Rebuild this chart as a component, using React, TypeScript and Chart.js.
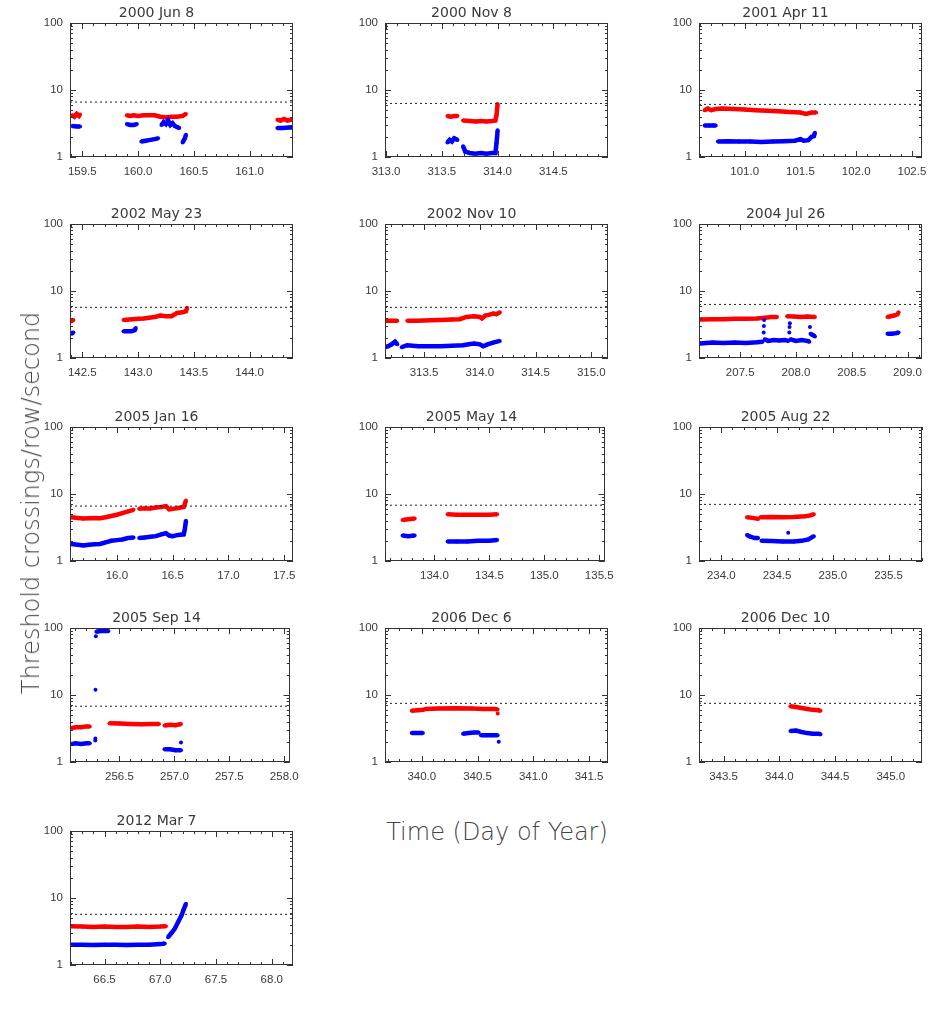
import React, { useEffect, useRef } from "react";
import { Chart, registerables } from "chart.js";

Chart.register(...registerables);

// ---------- data ----------
const TITLES = ["2000 Jun 8", "2000 Nov 8", "2001 Apr 11", "2002 May 23", "2002 Nov 10", "2004 Jul 26", "2005 Jan 16", "2005 May 14", "2005 Aug 22", "2005 Sep 14", "2006 Dec 6", "2006 Dec 10", "2012 Mar 7"];
const X_MIN = [159.39, 312.99, 100.59, 142.39, 313.15, 207.13, 15.58, 133.55, 233.80, 256.05, 339.67, 343.28, 66.19];
const X_MAX = [161.39, 314.99, 102.59, 144.39, 315.15, 209.13, 17.58, 135.55, 235.80, 258.05, 341.67, 345.28, 68.19];
const X_TICKS = [
  [159.5, 160.0, 160.5, 161.0],
  [313.0, 313.5, 314.0, 314.5],
  [101.0, 101.5, 102.0, 102.5],
  [142.5, 143.0, 143.5, 144.0],
  [313.5, 314.0, 314.5, 315.0],
  [207.5, 208.0, 208.5, 209.0],
  [16.0, 16.5, 17.0, 17.5],
  [134.0, 134.5, 135.0, 135.5],
  [234.0, 234.5, 235.0, 235.5],
  [256.5, 257.0, 257.5, 258.0],
  [340.0, 340.5, 341.0, 341.5],
  [343.5, 344.0, 344.5, 345.0],
  [66.5, 67.0, 67.5, 68.0],
];
const Y_TICKS = [1, 10, 100];
const THRESHOLDS = [6.6, 6.3, 6.1, 5.7, 5.7, 6.3, 6.6, 6.8, 7.0, 6.8, 7.5, 7.5, 5.7];

// red = one threshold, blue = other; each is a list of contiguous segments of [day, rate]
const RED_2000_JUN_8 = [
  [[159.41, 4.2], [159.43, 4.0], [159.45, 4.4], [159.47, 4.1], [159.48, 4.3]],
  [[159.90, 4.2], [159.93, 4.1], [159.96, 4.2], [160.0, 4.1], [160.05, 4.2], [160.1, 4.2], [160.15, 4.2], [160.2, 4.0], [160.25, 3.9], [160.3, 4.0], [160.35, 4.0], [160.4, 4.1], [160.43, 4.4]],
  [[161.25, 3.6], [161.28, 3.5], [161.31, 3.7], [161.34, 3.5], [161.37, 3.6], [161.39, 3.6]],
];
const BLUE_2000_JUN_8 = [
  [[159.41, 2.9], [159.45, 2.85], [159.48, 2.85]],
  [[159.90, 3.1], [159.93, 3.0], [159.96, 3.0], [159.99, 3.1]],
  [[160.03, 1.7], [160.07, 1.75], [160.11, 1.8], [160.15, 1.85], [160.18, 1.9]],
  [[160.21, 3.0], [160.23, 3.3], [160.25, 3.1], [160.27, 3.5], [160.29, 3.0], [160.31, 3.2], [160.33, 2.9], [160.35, 2.8], [160.37, 2.7]],
  [[160.40, 1.65], [160.42, 1.9], [160.43, 2.15]],
  [[161.25, 2.7], [161.3, 2.7], [161.35, 2.75], [161.39, 2.75]],
];
const RED_2000_NOV_8 = [
  [[313.55, 4.1], [313.58, 4.0], [313.61, 4.1], [313.64, 4.1]],
  [[313.69, 3.5], [313.75, 3.45], [313.8, 3.4], [313.85, 3.45], [313.9, 3.4], [313.95, 3.45], [313.98, 3.5], [313.99, 4.2], [314.0, 6.2]],
];
const BLUE_2000_NOV_8 = [
  [[313.55, 1.65], [313.57, 1.8], [313.59, 1.7], [313.61, 1.9], [313.64, 1.8]],
  [[313.69, 1.45], [313.71, 1.2], [313.75, 1.15], [313.8, 1.12], [313.85, 1.15], [313.9, 1.12], [313.95, 1.15], [313.98, 1.15], [313.99, 1.6], [314.0, 2.5]],
];
const RED_2001_APR_11 = [
  [[100.64, 5.0], [100.67, 5.3], [100.7, 5.0], [100.74, 5.2], [100.8, 5.3], [100.9, 5.2], [101.0, 5.1], [101.1, 5.0], [101.2, 4.9], [101.3, 4.8], [101.4, 4.7], [101.5, 4.6], [101.55, 4.4], [101.6, 4.6], [101.64, 4.6]],
];
const BLUE_2001_APR_11 = [
  [[100.64, 2.95], [100.68, 2.95], [100.72, 2.95], [100.74, 2.95]],
  [[100.76, 1.7], [100.85, 1.72], [100.95, 1.7], [101.05, 1.7], [101.15, 1.68], [101.25, 1.7], [101.35, 1.72], [101.45, 1.75], [101.5, 1.85], [101.53, 1.75], [101.57, 1.78], [101.6, 2.0], [101.62, 2.05], [101.63, 2.3]],
];
const RED_2002_MAY_23 = [
  [[142.40, 3.5], [142.42, 3.7]],
  [[142.87, 3.7], [142.95, 3.8], [143.0, 3.85], [143.05, 3.9], [143.1, 4.0], [143.15, 4.1], [143.2, 4.3], [143.25, 4.2], [143.3, 4.2], [143.35, 4.7], [143.4, 4.8], [143.43, 5.0], [143.44, 5.6]],
];
const BLUE_2002_MAY_23 = [
  [[142.40, 2.3], [142.42, 2.4]],
  [[142.87, 2.5], [142.9, 2.5], [142.94, 2.5], [142.97, 2.6], [142.98, 2.8]],
];
const RED_2002_NOV_10 = [
  [[313.15, 3.6], [313.2, 3.6], [313.26, 3.6]],
  [[313.35, 3.6], [313.45, 3.6], [313.55, 3.65], [313.65, 3.7], [313.75, 3.75], [313.82, 3.8], [313.88, 4.1], [313.95, 4.2], [314.0, 4.1], [314.02, 3.9], [314.05, 4.3], [314.08, 4.4], [314.12, 4.6], [314.15, 4.5], [314.18, 4.8]],
];
const BLUE_2002_NOV_10 = [
  [[313.15, 1.45], [313.18, 1.5], [313.21, 1.6], [313.24, 1.75], [313.26, 1.6]],
  [[313.3, 1.45], [313.35, 1.55], [313.45, 1.5], [313.55, 1.5], [313.65, 1.5], [313.75, 1.52], [313.85, 1.55], [313.9, 1.6], [313.95, 1.65], [314.0, 1.6], [314.03, 1.5], [314.07, 1.6], [314.12, 1.7], [314.18, 1.8]],
];
const RED_2004_JUL_26 = [
  [[207.14, 3.75], [207.25, 3.8], [207.35, 3.8], [207.45, 3.85], [207.55, 3.85], [207.65, 3.9], [207.72, 4.0], [207.78, 4.1], [207.83, 4.1]],
  [[207.92, 4.2], [207.98, 4.15], [208.05, 4.1], [208.1, 4.15], [208.17, 4.1]],
  [[208.82, 4.1], [208.85, 4.2], [208.88, 4.3], [208.91, 4.5], [208.92, 4.8]],
];
const BLUE_2004_JUL_26 = [
  [[207.14, 1.65], [207.25, 1.7], [207.35, 1.68], [207.45, 1.7], [207.55, 1.68], [207.65, 1.72], [207.7, 1.75]],
  [[207.71, 2.4]], [[207.712, 3.0]], [[207.714, 3.7]],
  [[207.72, 1.9], [207.75, 1.8], [207.8, 1.85], [207.85, 1.82], [207.9, 1.85], [207.93, 1.8]],
  [[207.94, 2.4]], [[207.942, 2.9]], [[207.945, 3.3]],
  [[207.95, 1.9], [208.0, 1.8], [208.05, 1.85], [208.1, 1.8], [208.12, 1.75]],
  [[208.125, 2.9]],
  [[208.13, 2.3], [208.15, 2.2], [208.17, 2.1]],
  [[208.82, 2.3], [208.86, 2.3], [208.9, 2.35], [208.92, 2.4]],
];
const RED_2005_JAN_16 = [
  [[15.59, 4.5], [15.65, 4.4], [15.7, 4.3], [15.75, 4.35], [15.8, 4.4], [15.85, 4.35], [15.9, 4.5], [15.95, 4.7], [16.0, 4.9], [16.05, 5.2], [16.1, 5.5], [16.15, 5.8]],
  [[16.2, 6.0], [16.25, 6.1], [16.3, 6.1], [16.35, 6.3], [16.4, 6.4], [16.44, 6.6], [16.47, 5.9], [16.5, 6.0], [16.55, 6.2], [16.6, 6.4], [16.62, 8.0]],
];
const BLUE_2005_JAN_16 = [
  [[15.59, 1.8], [15.65, 1.75], [15.7, 1.7], [15.75, 1.75], [15.8, 1.78], [15.85, 1.8], [15.9, 1.9], [15.95, 2.0], [16.0, 2.05], [16.05, 2.1], [16.1, 2.2], [16.15, 2.25]],
  [[16.2, 2.2], [16.25, 2.25], [16.3, 2.3], [16.35, 2.35], [16.4, 2.5], [16.44, 2.6], [16.47, 2.4], [16.5, 2.35], [16.55, 2.45], [16.6, 2.5], [16.61, 3.0], [16.62, 4.0]],
];
const RED_2005_MAY_14 = [
  [[133.71, 4.1], [133.76, 4.2], [133.82, 4.3]],
  [[134.12, 5.0], [134.2, 4.9], [134.3, 4.9], [134.4, 4.9], [134.5, 4.9], [134.57, 5.0]],
];
const BLUE_2005_MAY_14 = [
  [[133.71, 2.4], [133.76, 2.35], [133.82, 2.4]],
  [[134.12, 1.95], [134.2, 1.95], [134.3, 1.95], [134.4, 2.0], [134.5, 2.0], [134.57, 2.05]],
];
const RED_2005_AUG_22 = [
  [[234.23, 4.5], [234.28, 4.4], [234.33, 4.25]],
  [[234.35, 4.5], [234.45, 4.55], [234.55, 4.5], [234.65, 4.55], [234.75, 4.65], [234.8, 4.8], [234.83, 5.0]],
];
const BLUE_2005_AUG_22 = [
  [[234.23, 2.45], [234.26, 2.3], [234.3, 2.2], [234.33, 2.2]],
  [[234.36, 2.0], [234.45, 1.98], [234.55, 1.95], [234.65, 1.95], [234.72, 2.0], [234.78, 2.1], [234.83, 2.35]],
  [[234.6, 2.65]],
];
const RED_2005_SEP_14 = [
  [[256.06, 3.2], [256.1, 3.3], [256.15, 3.3], [256.2, 3.4], [256.23, 3.4]],
  [[256.41, 3.8], [256.5, 3.75], [256.6, 3.7], [256.7, 3.65], [256.8, 3.7], [256.86, 3.7]],
  [[256.91, 3.5], [256.96, 3.6], [257.01, 3.55], [257.06, 3.7]],
];
const BLUE_2005_SEP_14 = [
  [[256.06, 1.85], [256.1, 1.9], [256.15, 1.85], [256.2, 1.9], [256.23, 1.9]],
  [[256.28, 2.1]], [[256.281, 2.25]], [[256.282, 12]], [[256.285, 75]],
  [[256.29, 88], [256.33, 90], [256.37, 90], [256.40, 90]],
  [[256.91, 1.55], [256.96, 1.55], [257.01, 1.5], [257.06, 1.5]],
  [[257.06, 1.95]],
];
const RED_2006_DEC_6 = [
  [[339.91, 5.8], [339.96, 5.9], [340.02, 6.0]],
  [[340.03, 6.2], [340.15, 6.3], [340.3, 6.35], [340.45, 6.3], [340.55, 6.2], [340.65, 6.2], [340.68, 6.1]],
  [[340.681, 5.3]],
];
const BLUE_2006_DEC_6 = [
  [[339.91, 2.7], [339.96, 2.7], [340.01, 2.7]],
  [[340.37, 2.65], [340.42, 2.7], [340.47, 2.75], [340.51, 2.75]],
  [[340.53, 2.5], [340.58, 2.5], [340.63, 2.5], [340.68, 2.5]],
  [[340.69, 2.0]],
];
const RED_2006_DEC_10 = [
  [[344.10, 6.8], [344.15, 6.6], [344.2, 6.4], [344.25, 6.2], [344.3, 6.0], [344.35, 5.9], [344.37, 5.8]],
];
const BLUE_2006_DEC_10 = [
  [[344.10, 2.9], [344.15, 2.95], [344.2, 2.8], [344.25, 2.7], [344.3, 2.65], [344.35, 2.65], [344.37, 2.6]],
];
const RED_2012_MAR_7 = [
  [[66.19, 3.8], [66.3, 3.75], [66.4, 3.7], [66.5, 3.75], [66.6, 3.7], [66.7, 3.7], [66.8, 3.75], [66.9, 3.7], [67.0, 3.75], [67.05, 3.8]],
];
const BLUE_2012_MAR_7 = [
  [[66.19, 2.0], [66.3, 2.0], [66.4, 1.98], [66.5, 2.0], [66.6, 2.0], [66.7, 1.98], [66.8, 2.0], [66.9, 2.0], [67.0, 2.05], [67.04, 2.1]],
  [[67.07, 2.6], [67.1, 3.0], [67.13, 3.5], [67.16, 4.4], [67.19, 5.5], [67.21, 6.8], [67.23, 8.2]],
];

const RED_SERIES = [RED_2000_JUN_8, RED_2000_NOV_8, RED_2001_APR_11, RED_2002_MAY_23, RED_2002_NOV_10, RED_2004_JUL_26, RED_2005_JAN_16, RED_2005_MAY_14, RED_2005_AUG_22, RED_2005_SEP_14, RED_2006_DEC_6, RED_2006_DEC_10, RED_2012_MAR_7];
const BLUE_SERIES = [BLUE_2000_JUN_8, BLUE_2000_NOV_8, BLUE_2001_APR_11, BLUE_2002_MAY_23, BLUE_2002_NOV_10, BLUE_2004_JUL_26, BLUE_2005_JAN_16, BLUE_2005_MAY_14, BLUE_2005_AUG_22, BLUE_2005_SEP_14, BLUE_2006_DEC_6, BLUE_2006_DEC_10, BLUE_2012_MAR_7];

const Y_TITLE = "Threshold crossings/row/second";
const X_TITLE = "Time (Day of Year)";

// ---------- layout ----------
const COL_LEFT = [70, 385, 699];
const ROW_TOP = [23, 224, 427, 628, 831];
const BOX_W = 223;
const BOX_H = 134;
const AX_W = 50;
const TITLE_H = 25;
const XAX_H = 28;
const PAD_R = 14;
const FRAME = "#333333";
const TEXT = "#3a3a3a";

function toData(segs: number[][][]) {
  const out: { x: number; y: number | null }[] = [];
  segs.forEach((s, i) => {
    if (i > 0) out.push({ x: s[0][0], y: null });
    s.forEach(([x, y]) => out.push({ x, y }));
  });
  return out;
}

const framePlugin = {
  id: "idlFrame",
  afterDatasetsDraw(chart: any) {
    const { ctx, chartArea, scales } = chart;
    const { left, right, top, bottom } = chartArea;
    const xs = scales.x;
    const ys = scales.y;
    ctx.save();
    ctx.strokeStyle = FRAME;
    ctx.lineWidth = 1;
    ctx.strokeRect(Math.round(left) + 0.5, Math.round(top) + 0.5, Math.round(right - left) - 1, Math.round(bottom - top) - 1);
    ctx.beginPath();
    for (const d of [1, 10]) {
      for (let m = 1; m <= 10; m++) {
        const v = d * m;
        const major = m === 1 || m === 10;
        const len = major ? 6 : 3;
        const py = Math.round(ys.getPixelForValue(v)) + 0.5;
        ctx.moveTo(left, py); ctx.lineTo(left + len, py);
        ctx.moveTo(right, py); ctx.lineTo(right - len, py);
      }
    }
    const min = xs.min, max = xs.max;
    const start = Math.ceil(min * 10 - 1e-6);
    const end = Math.floor(max * 10 + 1e-6);
    for (let k = start; k <= end; k++) {
      const v = k / 10;
      const major = k % 5 === 0;
      const len = major ? 6 : 3;
      const px = Math.round(xs.getPixelForValue(v)) + 0.5;
      ctx.moveTo(px, bottom); ctx.lineTo(px, bottom - len);
      ctx.moveTo(px, top); ctx.lineTo(px, top + len);
    }
    ctx.stroke();
    ctx.restore();
  },
};

function Panel({ idx }: { idx: number }) {
  const ref = useRef<HTMLCanvasElement | null>(null);
  useEffect(() => {
    if (!ref.current) return;
    const xmin = X_MIN[idx];
    const xmax = X_MAX[idx];
    const seriesStyle = (color: string) => ({
      borderColor: color,
      backgroundColor: color,
      borderWidth: 4.5,
      pointRadius: 2,
      pointBorderWidth: 0,
      pointHoverRadius: 0,
      showLine: true,
      spanGaps: false,
      tension: 0,
    });
    const chart = new Chart(ref.current, {
      type: "scatter",
      data: {
        datasets: [
          {
            label: "threshold",
            data: [{ x: xmin, y: THRESHOLDS[idx] }, { x: xmax, y: THRESHOLDS[idx] }],
            borderColor: "#222222",
            borderWidth: 1,
            borderDash: [2, 3],
            pointRadius: 0,
            showLine: true,
          },
          { label: "blue", data: toData(BLUE_SERIES[idx]), ...seriesStyle("#0000ff") },
          { label: "red", data: toData(RED_SERIES[idx]), ...seriesStyle("#ff0000") },
        ],
      } as any,
      options: {
        animation: false,
        responsive: false,
        events: [],
        layout: { padding: { left: 0, right: PAD_R, top: 0, bottom: 0 } },
        plugins: {
          legend: { display: false },
          tooltip: { enabled: false },
          title: {
            display: true,
            text: TITLES[idx],
            color: TEXT,
            font: { family: "DejaVu Sans", size: 14, weight: "normal", lineHeight: 1.15 },
            padding: { top: 7, bottom: 1.9 },
          },
        },
        scales: {
          x: {
            type: "linear",
            min: xmin,
            max: xmax,
            grid: { display: false, drawTicks: false },
            border: { display: false },
            afterBuildTicks: (s: any) => {
              s.ticks = X_TICKS[idx].map((v) => ({ value: v }));
            },
            afterFit: (s: any) => {
              s.height = XAX_H;
            },
            ticks: {
              autoSkip: false,
              maxRotation: 0,
              padding: 8,
              color: TEXT,
              font: { family: "Liberation Sans", size: 11.5 },
              callback: (v: any) => Number(v).toFixed(1),
            },
          },
          y: {
            type: "logarithmic",
            min: 1,
            max: 100,
            grid: { display: false, drawTicks: false },
            border: { display: false },
            afterBuildTicks: (s: any) => {
              s.ticks = Y_TICKS.map((v) => ({ value: v }));
            },
            afterFit: (s: any) => {
              s.width = AX_W;
            },
            ticks: {
              autoSkip: false,
              padding: 7,
              color: TEXT,
              font: { family: "Liberation Sans", size: 11.5 },
              callback: (v: any) => String(v),
            },
          },
        },
      } as any,
      plugins: [framePlugin],
    });
    return () => chart.destroy();
  }, [idx]);
  const col = idx % 3;
  const row = Math.floor(idx / 3);
  return (
    <canvas
      ref={ref}
      width={AX_W + BOX_W + PAD_R}
      height={TITLE_H + BOX_H + XAX_H}
      style={{
        position: "absolute",
        left: COL_LEFT[col] - AX_W,
        top: ROW_TOP[row] - TITLE_H,
        width: AX_W + BOX_W + PAD_R,
        height: TITLE_H + BOX_H + XAX_H,
      }}
    />
  );
}

export default function App() {
  const titleStyle = {
    position: "absolute" as const,
    whiteSpace: "nowrap" as const,
    fontFamily: "DejaVu Sans",
    fontWeight: 200,
    fontSize: 24,
    color: "#444444",
  };
  return (
    <div
      style={{
        position: "absolute",
        left: 0,
        top: 0,
        width: 943,
        height: 1010,
        background: "#ffffff",
        overflow: "hidden",
      }}
    >
      {TITLES.map((_, i) => (
        <Panel key={i} idx={i} />
      ))}
      <div style={{ ...titleStyle, left: 31, top: 503, transform: "translate(-50%, -50%) rotate(-90deg)" }}>
        {Y_TITLE}
      </div>
      <div style={{ ...titleStyle, left: 497, top: 832, transform: "translate(-50%, -50%)" }}>
        {X_TITLE}
      </div>
    </div>
  );
}
